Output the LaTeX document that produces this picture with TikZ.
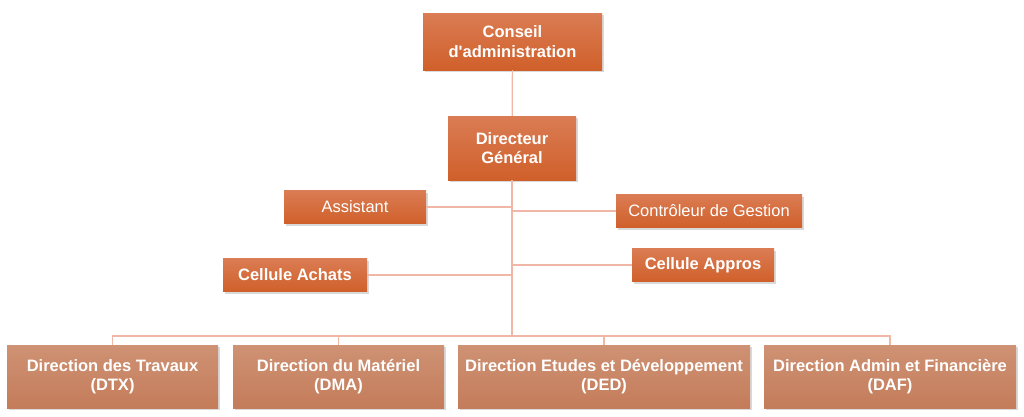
\documentclass[tikz,border=0pt]{standalone}
\usepackage{fontspec}
\setmainfont{Liberation Sans}
\usepackage{tikz}
\usetikzlibrary{shadows}

\definecolor{orgtop}{RGB}{218,124,84}
\definecolor{orgbot}{RGB}{208,96,42}
\definecolor{dirtop}{RGB}{206,146,116}
\definecolor{dirbot}{RGB}{196,124,90}
\definecolor{linkcol}{RGB}{240,182,166}

\begin{document}
\begin{tikzpicture}
[x=1pt,y=-1pt,font=\fontsize{16.5}{19.5}\selectfont]
  \tikzstyle{unit}=[top color=orgtop,bottom color=orgbot,draw=none,text=white,
    align=center,inner sep=2pt,
    drop shadow={opacity=0.3,shadow xshift=1.5pt,shadow yshift=-2pt}]
  \tikzstyle{head}=[unit,font=\fontsize{16.5}{19.5}\selectfont\bfseries]
  \tikzstyle{dirbox}=[head,top color=dirtop,bottom color=dirbot,
    minimum width=211pt,minimum height=63pt]
  \tikzstyle{link}=[draw=linkcol,line width=1.2pt]

  \useasboundingbox (0,0) rectangle (1024,416);

  \node[head,minimum width=179pt,minimum height=57pt] (CA) at (512.5,41.5) {Conseil\\d\textquotesingle administration};
  \node[head,minimum width=128pt,minimum height=64pt] (DG) at (512,148) {Directeur\\Général};
  \node[unit,minimum width=142pt,minimum height=33pt] (AS) at (355,207) {Assistant};
  \node[unit,minimum width=186pt,minimum height=33pt] (CG) at (709,211) {Contrôleur de Gestion};
  \node[head,minimum width=144pt,minimum height=33pt] (AC) at (295,275) {Cellule Achats};
  \node[head,minimum width=142pt,minimum height=33pt] (AP) at (703,265) {Cellule Appros};

  \node[dirbox] (DTX) at (112.5,376.5) {Direction des Travaux\\(DTX)};
  \node[dirbox] (DMA) at (338.5,376.5) {Direction du Matériel\\(DMA)};
  \node[dirbox,minimum width=292pt] (DED) at (604,376.5) {Direction Etudes et Développement\\(DED)};
  \node[dirbox,minimum width=252pt] (DAF) at (890,376.5) {Direction Admin et Financière\\(DAF)};

  \coordinate (B) at (512,336);

  \path[link] (CA) -- (DG);
  \path[link] (DG.south) -- (B);
  \path[link] (AS.east) -- (AS.east -| B);
  \path[link] (CG.west) -- (CG.west -| B);
  \path[link] (AC.east) -- (AC.east -| B);
  \path[link] (AP.west) -- (AP.west -| B);
  \path[link] (DTX.north) |- (B) -| (DAF.north);
  \path[link] (DMA.north) -- (DMA.north |- B);
  \path[link] (DED.north) -- (DED.north |- B);
\end{tikzpicture}
\end{document}
